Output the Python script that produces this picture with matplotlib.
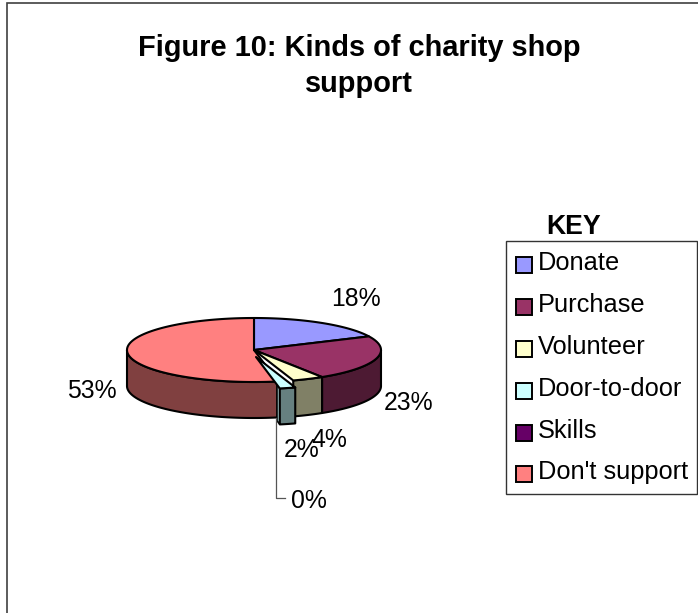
import numpy as np
import matplotlib
matplotlib.use('Agg')
import matplotlib.pyplot as plt
from matplotlib.patches import Polygon, Rectangle

plt.rcParams['font.family'] = ['Liberation Sans', 'DejaVu Sans']

# Dados do grafico
categorias = ['Donate', 'Purchase', 'Volunteer', 'Door-to-door', 'Skills', "Don't support"]
valores = [18, 23, 4, 2, 0, 53]
rotulos = ['18%', '23%', '4%', '2%', '0%', '53%']
cores_topo = ['#9999FF', '#993366', '#FFFFCC', '#CCFFFF', '#660066', '#FF8080']
cores_lado = ['#4D4D80', '#4D1A33', '#808066', '#668080', '#330033', '#804040']

# Geometria da pizza em pixels
cx, cy = 254, 350
rx, ry = 127, 32
altura = 36
desloc_porta = (2, 7)


def ponto(ang, dx=0, dy=0):
    a = np.radians(ang)
    return np.array([cx + dx + rx * np.sin(a), cy + dy - ry * np.cos(a)])


def arco(a0, a1, dx=0, dy=0):
    angs = np.linspace(a0, a1, max(int(abs(a1 - a0)) * 2, 2))
    return np.array([ponto(a, dx, dy) for a in angs])


def parede(ax, a0, a1, cor, dx=0, dy=0):
    # lateral visivel: so a metade da frente (90 a 270 graus)
    a0, a1 = max(a0, 90), min(a1, 270)
    if a1 <= a0:
        return
    cima = arco(a0, a1, dx, dy)
    baixo = cima[::-1] + [0, altura]
    ax.add_patch(Polygon(np.vstack([cima, baixo]), closed=True, fc=cor, ec='black', lw=1.5, joinstyle='round'))


def fatia(ax, a0, a1, cor, dx=0, dy=0):
    pts = np.vstack([[cx + dx, cy + dy], arco(a0, a1, dx, dy)])
    ax.add_patch(Polygon(pts, closed=True, fc=cor, ec='black', lw=1.5, joinstyle='round'))


fig = plt.figure(figsize=(6.98, 6.13), dpi=100)
ax = fig.add_axes([0, 0, 1, 1])
ax.set_xlim(0, 698)
ax.set_ylim(613, 0)
ax.axis('off')

# Moldura do grafico (sai pela direita e por baixo)
ax.add_patch(Rectangle((7, 3), 760, 700, fc='white', ec='#404040', lw=1.2))

ax.text(359, 48.5, 'Figure 10: Kinds of charity shop', fontsize=20.9, fontweight='bold', ha='center', va='center')
ax.text(359, 84.5, 'support', fontsize=20.9, fontweight='bold', ha='center', va='center')

# Angulos acumulados no sentido horario a partir do topo
fim = np.cumsum(valores) * 3.6
ini = np.concatenate([[0], fim[:-1]])

# Fatias normais, de tras para frente
ordem = [0, 5, 1, 2]
for i in ordem:
    parede(ax, ini[i], fim[i], cores_lado[i])
for i in ordem:
    fatia(ax, ini[i], fim[i], cores_topo[i])

# Door-to-door fica um pouco destacada da pizza
i = categorias.index('Door-to-door')
dx, dy = desloc_porta
borda = ponto(fim[i], dx, dy)
interno = borda + (np.array([cx + dx, cy + dy]) - borda) * 0.12
face = [interno, borda, borda + [0, altura], interno + [0, altura]]
ax.add_patch(Polygon(face, closed=True, fc='#A3CCCC', ec='black', lw=1.2))
parede(ax, ini[i], fim[i], cores_lado[i], dx, dy)
fatia(ax, ini[i], fim[i], cores_topo[i], dx, dy)

# Linha guia do rotulo 0%
ax.plot([276, 276, 285], [418, 498, 498], color='#555555', lw=0.9)

pos_rotulos = [(356, 299), (409, 403), (329, 440), (302, 450), (309, 501), (92, 391)]
for texto, (x, y) in zip(rotulos, pos_rotulos):
    ax.text(x, y, texto, fontsize=17.8, ha='center', va='center', color='black')

# Legenda
ax.text(574, 227, 'KEY', fontsize=19.2, fontweight='bold', ha='center', va='center')
ax.add_patch(Rectangle((505.5, 241), 191, 253, fc='white', ec='#333333', lw=1.0))
y_legenda = [265, 307, 349, 390.5, 432.5, 474]
for nome, cor, y in zip(categorias, cores_topo, y_legenda):
    ax.add_patch(Rectangle((515.5, y - 8), 16, 16, fc=cor, ec='black', lw=1.4))
    ax.text(538, y - 1.5, nome, fontsize=18.3, ha='left', va='center')

fig.savefig('out.png', dpi=100)
